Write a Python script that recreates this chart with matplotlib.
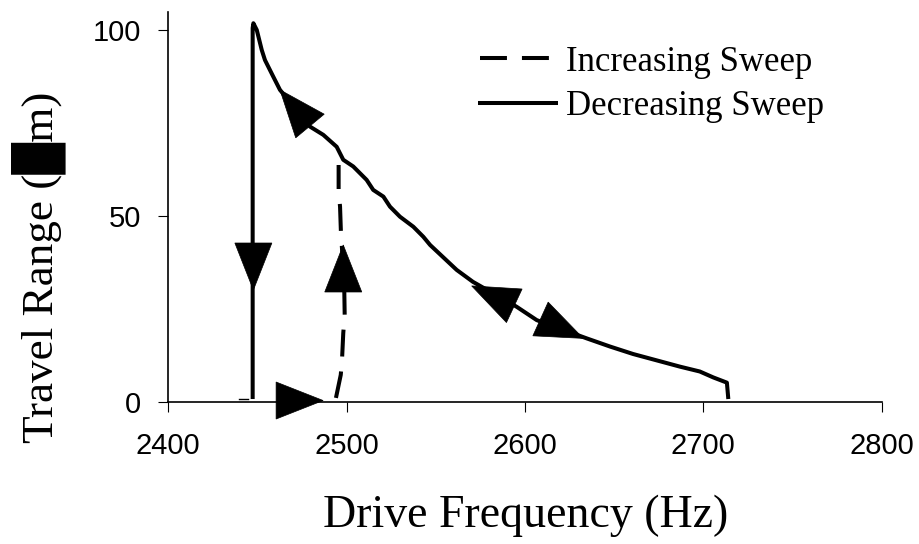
import numpy as np
import matplotlib
matplotlib.use("Agg")
import matplotlib.pyplot as plt
from matplotlib.patches import Polygon
from matplotlib.lines import Line2D

# ---------------- data ----------------
# Decreasing sweep (solid), traced from high to low frequency
dec_freq = [2714.0, 2713.2, 2710.5, 2705.6, 2698.0, 2686.9, 2660.6, 2647.7,
            2634.6, 2606.6, 2595.3, 2570.8, 2561.7, 2546.8, 2543.0, 2537.4,
            2529.9, 2524.3, 2520.6, 2514.9, 2511.2, 2503.7, 2498.1, 2494.4,
            2486.9, 2479.5, 2462.6, 2458.9, 2454.2, 2452.4, 2449.6, 2447.7,
            2447.3, 2447.3]
dec_range = [0.8, 5.2, 5.7, 6.6, 8.2, 9.5, 12.9, 14.9,
             17.1, 22.0, 25.6, 32.3, 35.5, 42.2, 44.4, 47.1,
             49.8, 52.5, 55.2, 57.0, 59.7, 63.3, 65.1, 68.6,
             71.8, 74.0, 83.9, 87.4, 91.9, 94.6, 100.0, 101.8,
             100.5, 0.8]

# Increasing sweep (dashed) jump-up branch
inc_freq = [2494.0, 2496.7, 2497.4, 2498.1, 2498.9, 2498.7, 2498.2, 2496.8,
            2496.3, 2495.5, 2495.5]
inc_range = [1.1, 7.3, 11.3, 18.5, 23.4, 29.3, 35.5, 45.4,
             52.5, 56.5, 63.7]

# small stub near zero
stub_freq = [2439.6, 2444.7]
stub_range = [0.8, 0.8]

# direction arrows: tip position (data) and screen angle (deg)
arrow_freq = [2486.8, 2447.7, 2498.1, 2462.6, 2570.1, 2632.7]
arrow_range = [0.4, 30.1, 42.2, 83.9, 31.2, 17.1]
arrow_angle = [0, -90, 90, 129.7, 155.0, -24.4]

x_ticks = [2400, 2500, 2600, 2700, 2800]
y_ticks = [0, 50, 100]

series_labels = ["Increasing Sweep", "Decreasing Sweep"]
x_label = "Drive Frequency (Hz)"
y_label = "Travel Range (\u2588m)"

# ---------------- figure ----------------
plt.rcParams["font.family"] = ["Liberation Sans", "DejaVu Sans"]
plt.rcParams["lines.scale_dashes"] = False

W_PX, H_PX = 919, 544
DPI = 100
fig = plt.figure(figsize=(W_PX / DPI, H_PX / DPI), dpi=DPI)
fig.patch.set_facecolor("white")

ax_left, ax_right = 168.3, 881.7
ax_top, ax_bottom = 11.7, 402.0
ax = fig.add_axes([ax_left / W_PX, (H_PX - ax_bottom) / H_PX,
                   (ax_right - ax_left) / W_PX, (ax_bottom - ax_top) / H_PX])
ax.set_xlim(2400, 2800)
ax.set_ylim(0, 104.9)

for s in ["top", "right"]:
    ax.spines[s].set_visible(False)
for s in ["left", "bottom"]:
    ax.spines[s].set_linewidth(1.2)
    ax.spines[s].set_color("black")

ax.set_xticks(x_ticks)
ax.set_yticks(y_ticks)
ax.tick_params(axis="both", direction="out", length=7, width=0.8,
               colors="black", labelsize=21)
ax.tick_params(axis="x", pad=14.5)
ax.tick_params(axis="y", pad=12.5)

LW = 2.9
dash = (19.4, 10.8)
ax.plot(dec_freq, dec_range, color="black", lw=LW, solid_joinstyle="round",
        solid_capstyle="butt", clip_on=False, zorder=3)
ax.plot(inc_freq, inc_range, color="black", lw=LW, dashes=dash,
        dash_capstyle="butt", clip_on=False, zorder=3)
ax.plot(stub_freq, stub_range, color="black", lw=1.0, clip_on=False, zorder=3)

# arrows (filled triangles, size in pixels)
L_PX, WID_PX = 47.0, 37.0
inv = ax.transData.inverted()
for fx, fy, ang in zip(arrow_freq, arrow_range, arrow_angle):
    tip = ax.transData.transform((fx, fy))
    a = np.deg2rad(ang)
    d = np.array([np.cos(a), np.sin(a)])
    n = np.array([-d[1], d[0]])
    base = tip - L_PX * d
    verts_disp = np.array([tip, base + WID_PX / 2 * n, base - WID_PX / 2 * n])
    verts = inv.transform(verts_disp)
    ax.add_patch(Polygon(verts, closed=True, facecolor="black",
                         edgecolor="black", lw=0.5, clip_on=False, zorder=4))

# legend (manual)
def px2fig(x, y):
    return x / W_PX, (H_PX - y) / H_PX

serif = ["Liberation Serif", "DejaVu Sans"]
x0, y0 = px2fig(480, 58.3)
x1, _ = px2fig(549, 58.3)
fig.add_artist(Line2D([x0, x1], [y0, y0], color="black", lw=LW,
                      dashes=dash, dash_capstyle="butt"))
x0, y1 = px2fig(478, 103)
x1, _ = px2fig(558, 103)
fig.add_artist(Line2D([x0, x1], [y1, y1], color="black", lw=LW,
                      solid_capstyle="butt"))
tx, ty = px2fig(566, 70.7)
fig.text(tx, ty, series_labels[0], family=serif, fontsize=25,
         ha="left", va="baseline")
tx, ty = px2fig(566, 115.2)
fig.text(tx, ty, series_labels[1], family=serif, fontsize=25,
         ha="left", va="baseline")

# axis labels
tx, ty = px2fig(526, 527)
fig.text(tx, ty, x_label, family=serif, fontsize=33,
         ha="center", va="baseline")
tx, ty = px2fig(52, 92)
fig.text(tx, ty, y_label, family=serif, fontsize=32.5, rotation=90,
         rotation_mode="anchor", ha="right", va="baseline")

fig.savefig("out.png", dpi=DPI, facecolor="white")
